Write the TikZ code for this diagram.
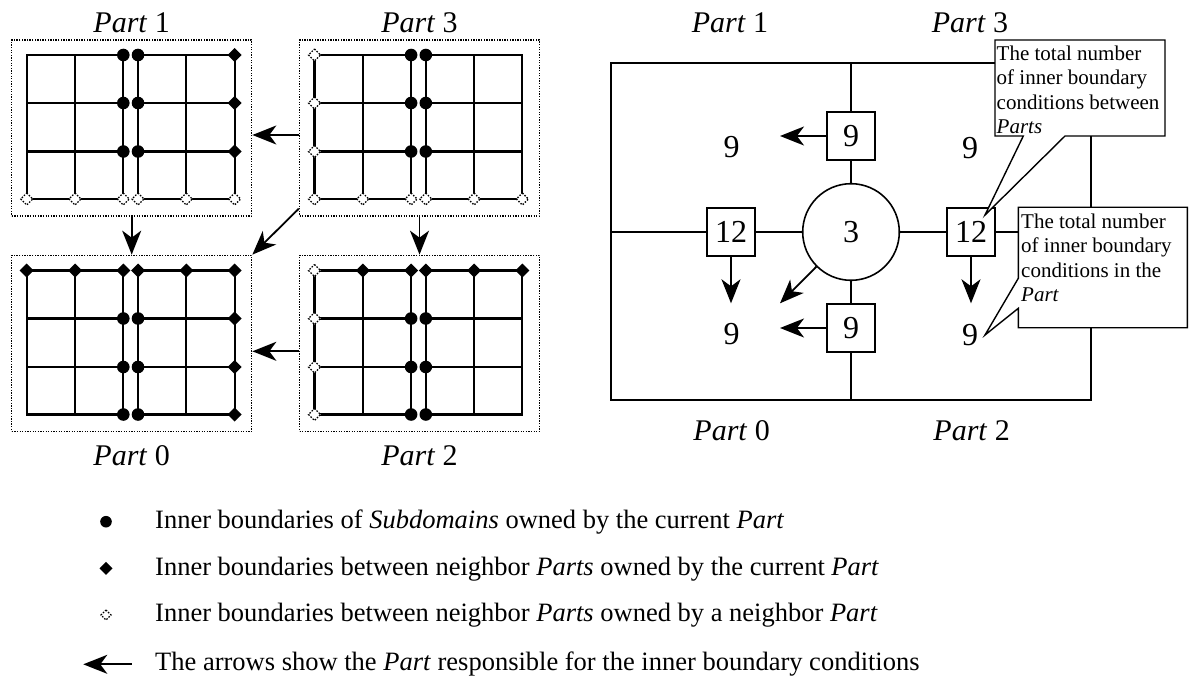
\documentclass[tikz,border=0pt]{standalone}
\usepackage{fontspec}
\setmainfont{Liberation Serif}
\usetikzlibrary{arrows.meta}
\def\cxs{{0,48.3,96.6,111.3,159.6,207.9}}
\def\rys{{0,48,96.5,144}}
\newcommand\gridpanel[2]{%
  \begin{scope}[shift={(#1,#2)}]
    \foreach \xo in {0,111.3} {
      \foreach \dx in {0,48.3,96.6} \draw[gridl] (\xo+\dx,0) -- (\xo+\dx,144);
      \foreach \dy in {0,48,96.5,144} \draw[gridl] (\xo,\dy) -- (\xo+96.6,\dy);
    }
  \end{scope}}
\newcommand\mcirc[2]{\fill ({\cxs[#1]},{\rys[#2]}) circle (6.3pt);}
\newcommand\mdiam[2]{\fill[shift={({\cxs[#1]},{\rys[#2]})}] (0pt,7pt) -- (7pt,0pt) -- (0pt,-7pt) -- (-7pt,0pt) -- cycle;}
\newcommand\mholl[2]{\filldraw[hollmk,shift={({\cxs[#1]},{\rys[#2]})}] (0pt,6pt) -- (6pt,0pt) -- (0pt,-6pt) -- (-6pt,0pt) -- cycle;}
\tikzset{
  gridl/.style={line width=2.1pt, line cap=rect},
  hollmk/.style={fill=white, draw=black, line width=1.3pt, dash pattern=on 1.5pt off 1.5pt},
  panel/.style={draw, line width=1.3pt, dash pattern=on 1.3pt off 1.3pt, minimum width=240pt, minimum height=176pt, inner sep=0pt},
  plabel/.style={font=\fontsize{30}{30}\selectfont, anchor=base},
  arr/.style={line width=1.8pt, -{Stealth[length=24pt,width=19pt,inset=7pt]}},
  nbox/.style={draw, fill=white, line width=1.6pt, minimum width=48.5pt, minimum height=48.5pt, inner sep=0pt, font=\fontsize{32}{32}\selectfont},
  ncirc/.style={draw, fill=white, circle, line width=1.6pt, minimum size=96.6pt, inner sep=0pt, font=\fontsize{32}{32}\selectfont},
  num/.style={font=\fontsize{32}{32}\selectfont, inner sep=0pt},
  fline/.style={line width=1.7pt},
  callout/.style={draw, fill=white, line width=1.4pt, line join=miter},
  ctext/.style={font=\fontsize{21}{24.5}\selectfont, align=left, inner sep=0pt, anchor=north west},
  legtext/.style={font=\fontsize{26.5}{26.5}\selectfont, anchor=base west, inner sep=0pt}
}
\begin{document}
\begin{tikzpicture}[x=1pt,y=-1pt]
\useasboundingbox (0,0) rectangle (1199,679);
% ---------------- left diagram ----------------
\node[panel] (p1) at (131.7,128) {};
\node[panel] (p3) at (419.5,128) {};
\node[panel] (p0) at (131.7,343.3) {};
\node[panel] (p2) at (419.5,343.3) {};
\node[plabel] (l1) at (131.7,33) {\textit{Part} 1};
\node[plabel] (l3) at (419.5,33) {\textit{Part} 3};
\node[plabel] (l0) at (131.7,465) {\textit{Part} 0};
\node[plabel] (l2) at (419.5,465) {\textit{Part} 2};
\gridpanel{26.7}{55}
\gridpanel{314.5}{55}
\gridpanel{26.7}{270.5}
\gridpanel{314.5}{270.5}
% Part 1 markers
\begin{scope}[shift={(26.7,55)}]
  \foreach \i/\j in {2/0,3/0,2/1,3/1,2/2,3/2} {\mcirc{\i}{\j}}
  \foreach \i/\j in {5/0,5/1,5/2} {\mdiam{\i}{\j}}
  \foreach \i in {0,...,5} {\mholl{\i}{3}}
\end{scope}
% Part 3 markers
\begin{scope}[shift={(314.5,55)}]
  \foreach \i/\j in {2/0,3/0,2/1,3/1,2/2,3/2} {\mcirc{\i}{\j}}
  \foreach \i/\j in {0/0,0/1,0/2,0/3,1/3,2/3,3/3,4/3,5/3} {\mholl{\i}{\j}}
\end{scope}
% Part 0 markers
\begin{scope}[shift={(26.7,270.5)}]
  \foreach \i/\j in {0/0,1/0,2/0,3/0,4/0,5/0,5/1,5/2,5/3} {\mdiam{\i}{\j}}
  \foreach \i/\j in {2/1,3/1,2/2,3/2,2/3,3/3} {\mcirc{\i}{\j}}
\end{scope}
% Part 2 markers
\begin{scope}[shift={(314.5,270.5)}]
  \foreach \i/\j in {0/0,0/1,0/2,0/3} {\mholl{\i}{\j}}
  \foreach \i/\j in {1/0,2/0,3/0,4/0,5/0} {\mdiam{\i}{\j}}
  \foreach \i/\j in {2/1,3/1,2/2,3/2,2/3,3/3} {\mcirc{\i}{\j}}
\end{scope}
% arrows between parts
\draw[arr] ([yshift=-7pt]p3.west) -- ([yshift=-7pt]p1.east);
\draw[arr] ([yshift=-8pt]p2.west) -- ([yshift=-8pt]p0.east);
\draw[arr] (p1.south) -- (p0.north);
\draw[arr] (p3.south) -- (p2.north);
\draw[arr] ([yshift=8pt]p3.south west) -- (p0.north east);
% ---------------- right diagram ----------------
\coordinate (fT) at (851,63);
\coordinate (fB) at (851,400);
\coordinate (fL) at (611,232);
\coordinate (fR) at (1091,232);
\draw[fline] (611,63) rectangle (1091,400);
\node[nbox] (b9t) at (851,136) {9};
\node[ncirc] (c3) at (851,232) {3};
\node[nbox] (b9b) at (851,328) {9};
\node[nbox] (b12l) at (731,232) {12};
\node[nbox] (b12r) at (971,232) {12};
\draw[fline] (fT) -- (b9t);
\draw[fline] (b9t) -- (c3);
\draw[fline] (c3) -- (b9b);
\draw[fline] (b9b) -- (fB);
\draw[fline] (fL) -- (b12l);
\draw[fline] (b12l) -- (c3);
\draw[fline] (c3) -- (b12r);
\draw[fline] (b12r) -- (fR);
\node[num] (n9a) at (731.7,147) {9};
\node[num] (n9b) at (731.7,334) {9};
\node[num] (n9c) at (970,148) {9};
\node[num] (n9d) at (970,335) {9};
\coordinate (a1) at (780,136);
\coordinate (a2) at (731,303.3);
\coordinate (a3) at (780,303.3);
\coordinate (a4) at (780,328);
\coordinate (a5) at (971,303.3);
\draw[arr] (b9t.west) -- (a1);
\draw[arr] (b12l.south) -- (a2);
\draw[arr] (c3.225) -- (a3);
\draw[arr] (b9b.west) -- (a4);
\draw[arr] (b12r.south) -- (a5);
\node[plabel] (r1) at (730,33) {\textit{Part} 1};
\node[plabel] (r3) at (970,33) {\textit{Part} 3};
\node[plabel] (r0) at (731.7,440) {\textit{Part} 0};
\node[plabel] (r2) at (971.7,440) {\textit{Part} 2};
% callouts
\draw[callout] (995,40) -- (1165,40) -- (1165,136) -- (1065,136) -- (985,215) -- (1023.3,136) -- (995,136) -- cycle;
\node[ctext] (t1) at (996.5,45.5) {The total number\\of inner boundary\\conditions between\\\textit{Parts}};
\draw[callout] (1018.3,207.3) -- (1187.3,207.3) -- (1187.3,327.7) -- (1018.3,327.7) -- (1018.3,308.3) -- (985,335) -- (1018.3,278.3) -- cycle;
\node[ctext] (t2) at (1021,213.5) {The total number\\of inner boundary\\conditions in the\\\textit{Part}};
% ---------------- legend ----------------
\fill (106,521.7) circle (5.8pt);
\fill[shift={(106,568.3)}] (0pt,6.5pt) -- (6.5pt,0pt) -- (0pt,-6.5pt) -- (-6.5pt,0pt) -- cycle;
\filldraw[hollmk,shift={(106,615)}] (0pt,5pt) -- (5pt,0pt) -- (0pt,-5pt) -- (-5pt,0pt) -- cycle;
\coordinate (la1) at (131.7,664.3);
\coordinate (la2) at (83.3,664.3);
\draw[arr] (la1) -- (la2);
\node[legtext] (g1) at (155,528.3) {Inner boundaries of \textit{Subdomains} owned by the current \textit{Part}};
\node[legtext] (g2) at (155,575) {Inner boundaries between neighbor \textit{Parts} owned by the current \textit{Part}};
\node[legtext] (g3) at (155,621.7) {Inner boundaries between neighbor \textit{Parts} owned by a neighbor \textit{Part}};
\node[legtext] (g4) at (155,670) {The arrows show the \textit{Part} responsible for the inner boundary conditions};
\end{tikzpicture}
\end{document}
